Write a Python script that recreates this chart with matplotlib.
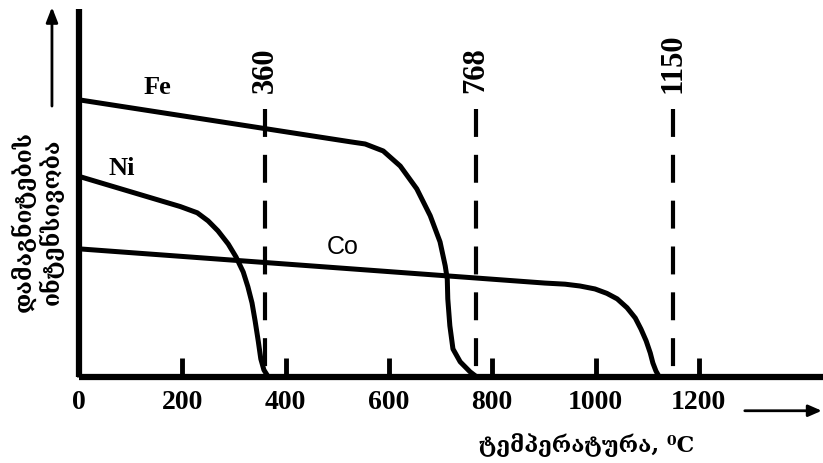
import matplotlib
matplotlib.use("Agg")
import matplotlib.pyplot as plt

# Magnetisation (relative units) versus temperature, degrees C
fe_t = [0, 525, 554, 589, 622, 654, 680, 699, 709, 713, 714, 718, 724, 738, 757, 769]
fe_m = [75.3, 63.9, 63.3, 61.4, 57.3, 51.1, 43.8, 36.7, 30.2, 26.6, 21.2, 13.9, 7.6, 4.1, 1.4, 0.1]

ni_t = [0, 196, 229, 250, 269, 289, 304, 318, 327, 335, 341, 347, 352, 358, 366]
ni_m = [54.5, 46.3, 44.6, 42.4, 39.7, 36.1, 32.6, 28.5, 24.5, 20.1, 15.2, 9.8, 4.9, 1.9, 0.1]

co_t = [0, 902, 941, 970, 999, 1022, 1042, 1061, 1077, 1088, 1098, 1106, 1111, 1117, 1123]
co_m = [34.8, 25.5, 25.2, 24.7, 23.9, 22.7, 21.2, 18.8, 16.0, 13.0, 9.8, 6.5, 3.8, 1.6, 0.1]

curie_points = [360, 768, 1150]
x_ticks = [0, 200, 400, 600, 800, 1000, 1200]
x_tick_labels = ["0", "200", "400", "600", "800", "1000", "1200"]

ylabel_text = "დამაგნიტების\nინტენსივობა"
xlabel_text = "ტემპერატურა, ⁰C"

serif_bold = dict(family=["Liberation Serif", "DejaVu Serif"], weight="bold")
geo_font = dict(family=["DejaVu Serif", "DejaVu Sans"], weight="bold")

fig = plt.figure(figsize=(8.23, 4.64), dpi=100)
ax = fig.add_axes([0, 0, 1, 1])
ax.set_xlim(-152.9, 1440.4)
ax.set_ylim(-23.4, 102.7)

# axes drawn through the origin
for side in ("top", "right"):
    ax.spines[side].set_visible(False)
ax.spines["left"].set_position(("data", 0))
ax.spines["bottom"].set_position(("data", 0))
ax.spines["left"].set_bounds(0, 100)
ax.spines["bottom"].set_bounds(0, 1440)
for side in ("left", "bottom"):
    ax.spines[side].set_linewidth(4.5)
    ax.spines[side].set_capstyle("butt")

ax.set_yticks([])
ax.set_xticks(x_ticks)
ax.set_xticklabels(x_tick_labels, fontsize=20, **serif_bold)
ax.tick_params(axis="x", direction="in", length=14, width=3.5, pad=9)

lw = 3.6
curve_style = dict(color="black", lw=lw, solid_joinstyle="round", solid_capstyle="butt")
ax.plot(fe_t, fe_m, **curve_style)
ax.plot(ni_t, ni_m, **curve_style)
ax.plot(co_t, co_m, **curve_style)

ax.text(152, 78.8, "Fe", fontsize=19, ha="center", va="center", **serif_bold)
ax.text(83, 57, "Ni", fontsize=19, ha="center", va="center", **serif_bold)
ax.text(511, 35.6, "Co", fontsize=18, ha="center", va="center",
        family=["Liberation Sans", "DejaVu Sans"])

# Curie temperatures
dash_lw = 3.0
for t in curie_points:
    ax.plot([t, t], [72.8, 0], color="black", lw=dash_lw,
            linestyle=(0, (6.7, 4.3)), solid_capstyle="butt")
    ax.text(t, 77.4, str(t), rotation=90, ha="center", va="bottom",
            fontsize=22, **serif_bold)

# direction arrows
ax.annotate("", xy=(1438, -9.2), xytext=(1289, -9.2),
            arrowprops=dict(arrowstyle="-|>,head_length=0.8,head_width=0.35",
                            color="black", lw=2.0, shrinkA=0, shrinkB=0),
            annotation_clip=False)
ax.annotate("", xy=(-52.3, 100.5), xytext=(-52.3, 73.6),
            arrowprops=dict(arrowstyle="-|>,head_length=0.9,head_width=0.35",
                            color="black", lw=2.0, shrinkA=0, shrinkB=0),
            annotation_clip=False)

ax.text(-81.3, 42.4, ylabel_text, rotation=90, ha="center", va="center",
        fontsize=16.5, linespacing=1.15, multialignment="center", **geo_font)
ax.text(983, -18.2, xlabel_text, ha="center", va="center", fontsize=16, **geo_font)

fig.savefig("out.png", dpi=100)
